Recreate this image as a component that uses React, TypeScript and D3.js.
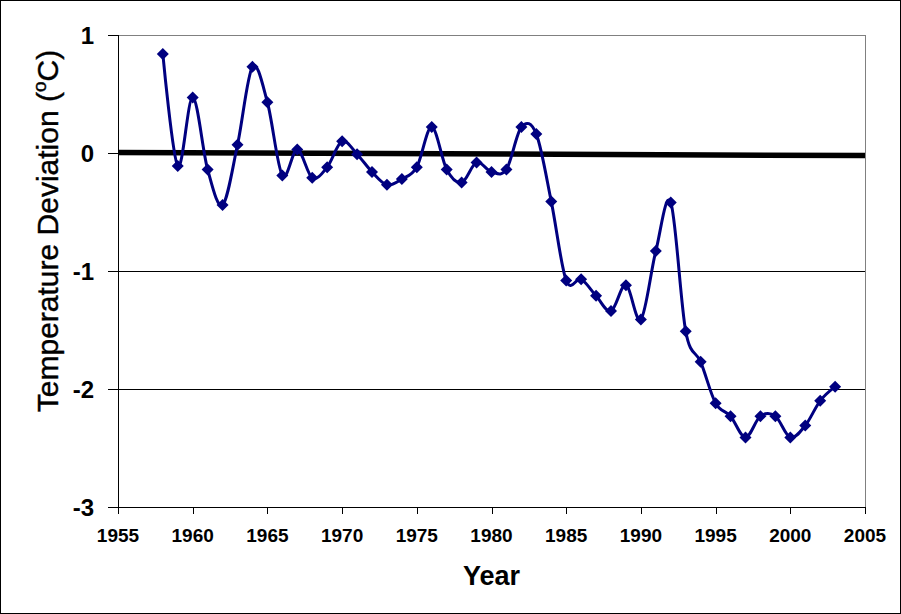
import React from "react";
import * as d3 from "d3";

const years = [1958,1959,1960,1961,1962,1963,1964,1965,1966,1967,1968,1969,1970,1971,1972,1973,1974,1975,1976,1977,1978,1979,1980,1981,1982,1983,1984,1985,1986,1987,1988,1989,1990,1991,1992,1993,1994,1995,1996,1997,1998,1999,2000,2001,2002,2003];
const deviations = [0.84,-0.11,0.47,-0.14,-0.44,0.07,0.73,0.43,-0.19,0.03,-0.21,-0.12,0.10,-0.01,-0.16,-0.27,-0.22,-0.12,0.22,-0.14,-0.25,-0.08,-0.16,-0.14,0.22,0.16,-0.41,-1.08,-1.07,-1.21,-1.34,-1.12,-1.41,-0.83,-0.42,-1.51,-1.77,-2.12,-2.23,-2.41,-2.23,-2.23,-2.41,-2.31,-2.10,-1.98];
const trendYears = [1955, 2005];
const trendValues = [0.005, -0.022];
const xTicks = [1955,1960,1965,1970,1975,1980,1985,1990,1995,2000,2005];
const yTicks = [1, 0, -1, -2, -3];
const gridValues = [-1, -2];

const W = 901, H = 614;
const L = 118, R = 865, T = 35, B = 507;

export default function App() {
  const x = d3.scaleLinear().domain([1955, 2005]).range([L, R]);
  const y = d3.scaleLinear().domain([-3, 1]).range([B, T]);
  const pts: [number, number][] = years.map((yr, i) => [x(yr), y(deviations[i])]);
  const line = d3.line().curve(d3.curveCatmullRom.alpha(0))(pts) || "";
  const trend = d3.line()(trendYears.map((yr, i) => [x(yr), y(trendValues[i])] as [number, number])) || "";
  const diamond = (cx: number, cy: number, r: number) => `M${cx},${cy - r}L${cx + r},${cy}L${cx},${cy + r}L${cx - r},${cy}Z`;
  const font = "'Liberation Sans', Arial, sans-serif";
  return (
    <svg width={W} height={H} style={{ position: "absolute", left: 0, top: 0, background: "#fff" }} fontFamily={font}>
      <rect x={0.5} y={0.5} width={W - 1} height={H - 1} fill="#fff" stroke="#000" strokeWidth={1} />
      {gridValues.map((v) => (
        <line key={v} x1={L} x2={R} y1={Math.round(y(v)) + 0.5} y2={Math.round(y(v)) + 0.5} stroke="#000" strokeWidth={1} />
      ))}
      <line x1={L} x2={R} y1={T + 0.5} y2={T + 0.5} stroke="#808080" strokeWidth={1} />
      <line x1={R + 0.5} x2={R + 0.5} y1={T} y2={B} stroke="#808080" strokeWidth={1} />
      <line x1={L + 0.5} x2={L + 0.5} y1={T} y2={B} stroke="#000" strokeWidth={1} />
      <line x1={L} x2={R + 1} y1={B + 0.5} y2={B + 0.5} stroke="#000" strokeWidth={1} />
      {yTicks.map((v) => (
        <g key={v}>
          <line x1={L - 10} x2={L} y1={Math.round(y(v)) + 0.5} y2={Math.round(y(v)) + 0.5} stroke="#000" />
          <text x={94} y={y(v)} dy="0.36em" textAnchor="end" fontSize={24} fontWeight="bold">{v}</text>
        </g>
      ))}
      {xTicks.map((v) => (
        <g key={v}>
          <line x1={Math.round(x(v)) + 0.5} x2={Math.round(x(v)) + 0.5} y1={B} y2={B + 7} stroke="#000" />
          <text x={x(v)} y={542} textAnchor="middle" fontSize={19} fontWeight="bold">{v}</text>
        </g>
      ))}
      <path d={trend} stroke="#000" strokeWidth={5.5} fill="none" />
      <path d={line} stroke="#000080" strokeWidth={3} fill="none" />
      {pts.map(([cx, cy], i) => (
        <path key={i} d={diamond(cx, cy, 6)} fill="#000080" />
      ))}
      <text x={(L + R) / 2} y={585} textAnchor="middle" fontSize={27} fontWeight="bold">Year</text>
      <text transform={`translate(58,231) rotate(-90)`} textAnchor="middle" fontSize={30} stroke="#000" strokeWidth={0.4}>
        Temperature Deviation (<tspan fontSize={19} dy={-12}>o</tspan><tspan dy={12}>C)</tspan>
      </text>
    </svg>
  );
}
